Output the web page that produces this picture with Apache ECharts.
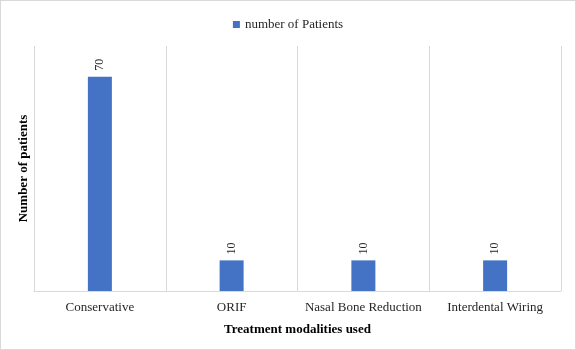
<!DOCTYPE html>
<head>
    <meta charset="utf-8">
    <title>ECharts</title>
    <style>
        html, body { margin: 0; padding: 0; background: #fff; }
        #main { position: absolute; left: 0; top: 0; width: 574px; height: 348px; border: 1px solid #d9d9d9; }
    </style>
</head>
<body>
    <div id="main"></div>
    <script src="https://cdn.jsdelivr.net/npm/echarts@6/dist/echarts.min.js"></script>
    <script type="text/javascript">
var categories = ['Conservative', 'ORIF', 'Nasal Bone Reduction', 'Interdental Wiring'];
var patients = [70, 10, 10, 10];
var seriesName = 'number of Patients';

var myChart = echarts.init(document.getElementById('main'));
var font = 'Liberation Serif, Times New Roman, serif';

myChart.setOption({
    animation: false,
    textStyle: { fontFamily: font },
    legend: {
        data: [seriesName],
        top: 12,
        left: 'center',
        icon: 'rect',
        itemWidth: 7,
        itemHeight: 7,
        itemGap: 4,
        textStyle: { fontFamily: font, fontSize: 13, color: '#262626' }
    },
    grid: { left: 33, right: 14, top: 45, bottom: 58, containLabel: false },
    xAxis: {
        type: 'category',
        data: categories,
        name: 'Treatment modalities used',
        nameLocation: 'middle',
        nameGap: 32,
        nameTextStyle: { fontFamily: font, fontSize: 13, fontWeight: 'bold', color: '#000' },
        axisLine: { lineStyle: { color: '#d9d9d9' } },
        axisTick: { show: false },
        axisLabel: { fontFamily: font, fontSize: 13, color: '#262626', margin: 10, interval: 0 },
        splitLine: { show: true, interval: 0, lineStyle: { color: '#d9d9d9' } }
    },
    yAxis: {
        type: 'value',
        min: 0,
        max: 80,
        name: 'Number of patients',
        nameLocation: 'middle',
        nameGap: 4,
        nameTextStyle: { fontFamily: font, fontSize: 13, fontWeight: 'bold', color: '#000' },
        axisLine: { show: false },
        axisTick: { show: false },
        axisLabel: { show: false },
        splitLine: { show: false }
    },
    series: [{
        name: seriesName,
        type: 'bar',
        data: patients,
        barWidth: 24,
        itemStyle: { color: '#4472c4' },
        label: {
            show: true,
            position: 'top',
            rotate: 90,
            align: 'left',
            verticalAlign: 'middle',
            distance: 6,
            fontFamily: font,
            fontSize: 12,
            color: '#262626'
        }
    }]
});
    </script>
</body>
